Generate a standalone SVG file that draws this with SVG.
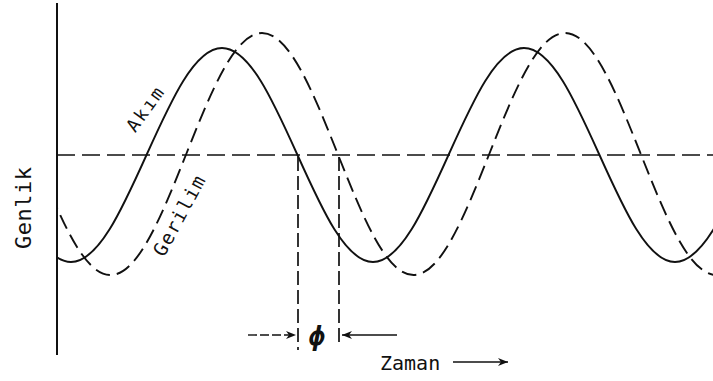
<svg xmlns="http://www.w3.org/2000/svg" width="713" height="381" viewBox="0 0 713 381">
  <style>
    .lbl { font-family: "DejaVu Sans Mono", "Liberation Mono", monospace; fill: #111; }
    .solid { fill: none; stroke: #111; stroke-width: 1.9; }
    .dash { fill: none; stroke: #111; stroke-width: 1.9; stroke-dasharray: 15 7; }
    .ref { fill: none; stroke: #111; stroke-width: 1.7; stroke-dasharray: 18 7; }
    .drop { fill: none; stroke: #111; stroke-width: 1.7; stroke-dasharray: 14 5; }
    .thin { fill: none; stroke: #111; stroke-width: 1.4; }
  </style>
  <defs>
    <clipPath id="plot"><rect x="57" y="0" width="656" height="381"/></clipPath>
    <marker id="ah" viewBox="0 0 10 8" refX="10" refY="4" markerWidth="10" markerHeight="8" markerUnits="userSpaceOnUse" orient="auto">
      <path d="M0,0 L10,4 L0,8 L3,4 Z" fill="#111"/>
    </marker>
  </defs>
  <rect width="713" height="381" fill="#fff"/>

  <g id="axes">
    <line x1="57" y1="3" x2="57" y2="355" stroke="#111" stroke-width="2"/>
    <line class="ref" x1="57" y1="155" x2="713" y2="155"/>
  </g>

  <g id="curves" clip-path="url(#plot)">
    <path id="akim-curve" class="solid" d="M -4.5,155 C 20.12,209.82 43.68,262 71,262 C 98.32,262 121.88,209.82 146.5,155 C 171.12,100.18 194.68,48 222,48 C 249.32,48 272.88,100.18 297.5,155 C 322.12,209.82 345.68,262 373,262 C 400.32,262 423.88,209.82 448.5,155 C 473.12,100.18 496.68,48 524,48 C 551.32,48 574.88,100.18 599.5,155 C 624.12,209.82 647.68,262 675,262 C 702.32,262 725.88,209.82 750.5,155"/>
    <path id="gerilim-curve" class="dash" d="M 34.75,154 C 59.45,215.99 83.09,275 110.5,275 C 137.91,275 161.55,215.99 186.25,154 C 210.95,92.01 234.59,33 262,33 C 289.41,33 313.05,92.01 337.75,154 C 362.45,215.99 386.09,275 413.5,275 C 440.91,275 464.55,215.99 489.25,154 C 513.95,92.01 537.59,33 565,33 C 592.41,33 616.05,92.01 640.75,154 C 665.45,215.99 689.09,275 716.5,275"/>
  </g>

  <g id="connectors">
    <line class="drop" x1="298" y1="157" x2="298" y2="350"/>
    <line class="drop" x1="339" y1="157" x2="339" y2="345"/>
    <line class="thin" x1="248" y1="335" x2="296" y2="335" stroke-dasharray="9 3" marker-end="url(#ah)"/>
    <line class="thin" x1="397" y1="335" x2="342" y2="335" marker-end="url(#ah)"/>
    <line class="thin" x1="453" y1="362" x2="508" y2="362" marker-end="url(#ah)"/>
  </g>

  <g id="label-genlik">
    <text class="lbl" font-size="22" text-anchor="middle" textLength="82" lengthAdjust="spacing" transform="translate(31,208) rotate(-90)">Genlik</text>
  </g>
  <g id="label-akim">
    <text class="lbl" font-size="18" text-anchor="middle" textLength="50" lengthAdjust="spacing" transform="translate(150,113) rotate(-54)">Akım</text>
  </g>
  <g id="label-gerilim">
    <text class="lbl" font-size="19" text-anchor="middle" textLength="88" lengthAdjust="spacing" transform="translate(185,219) rotate(-61.6)">Gerilim</text>
  </g>
  <g id="label-phi">
    <text class="lbl" font-size="27" font-style="italic" font-weight="bold" text-anchor="middle" x="317" y="345">ϕ</text>
  </g>
  <g id="label-zaman">
    <text class="lbl" font-size="20" x="380" y="370">Zaman</text>
  </g>
</svg>
